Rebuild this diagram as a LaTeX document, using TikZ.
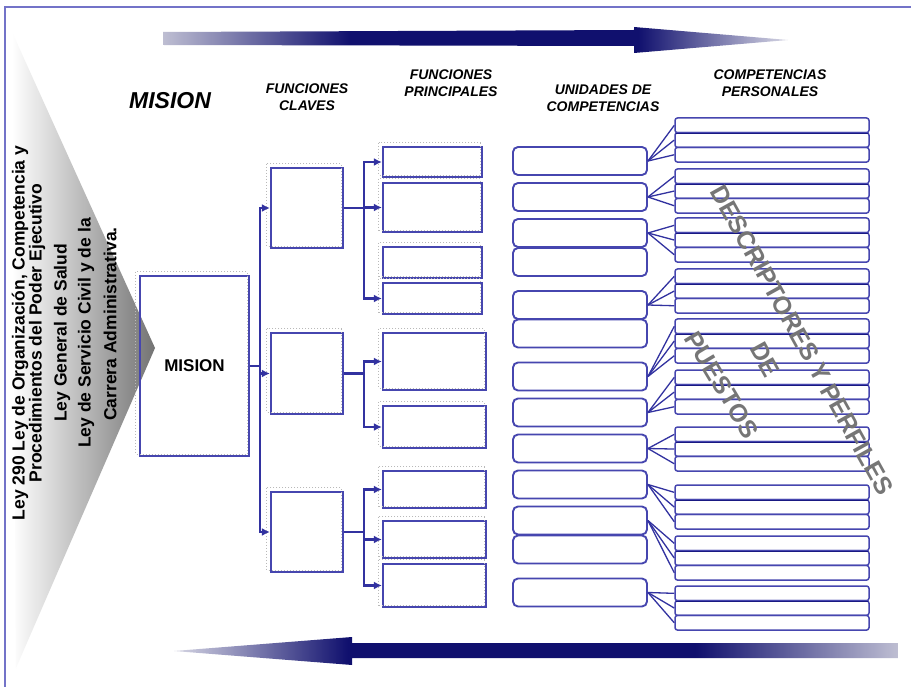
\documentclass[tikz,border=0pt]{standalone}
\usepackage{fontspec}
\setmainfont{Liberation Sans}
\usetikzlibrary{arrows.meta}
\definecolor{boxblue}{RGB}{70,70,175}
\definecolor{connblue}{RGB}{50,50,160}
\definecolor{darknavy}{RGB}{25,25,130}
\definecolor{framec}{RGB}{115,115,200}
\definecolor{arnavy}{RGB}{16,16,110}
\definecolor{arlight}{RGB}{190,190,210}
\definecolor{arlight2}{RGB}{215,215,228}
\definecolor{trigray}{RGB}{115,115,115}
\definecolor{diaggray}{RGB}{118,118,118}
\pgfdeclarehorizontalshading{toparrowshade}{100bp}{color(0bp)=(arlight); color(25bp)=(arlight); color(40bp)=(arnavy); color(63bp)=(arnavy); color(75bp)=(arlight2); color(100bp)=(arlight2)}
\pgfdeclarehorizontalshading{botarrowshade}{100bp}{color(0bp)=(arlight2); color(25bp)=(arlight2); color(37bp)=(arnavy); color(61bp)=(arnavy); color(75bp)=(arlight); color(100bp)=(arlight)}
\begin{document}
\begin{tikzpicture}[x=1pt,y=-1pt,
  bx/.style={draw=boxblue, line width=2.3pt, inner sep=0pt},
  ucbox/.style={draw=boxblue, line width=1.9pt, rounded corners=5pt, minimum width=134pt, minimum height=28pt, inner sep=0pt},
  cprow/.style={draw=boxblue, line width=1.5pt, rounded corners=2.5pt, minimum width=194pt, minimum height=14.7pt, inner sep=0pt},
  conn/.style={draw=connblue, line width=2.3pt, -{Latex[length=8pt,width=8pt]}},
  fan/.style={draw=connblue, line width=1.3pt},
  dshadow/.style={draw=gray!55, dotted, line width=1pt},
  hdr/.style={font=\bfseries\itshape\fontsize{14}{17}\selectfont, align=center, text=black, inner sep=0pt},
  law/.style={font=\bfseries\fontsize{17.5}{17.5}\selectfont, rotate=90, inner sep=0pt},
  diag/.style={font=\bfseries\fontsize{25}{25}\selectfont, text=diaggray, inner sep=0pt}
]
\useasboundingbox (0,0) rectangle (911,687);
\fill[white] (0,0) rectangle (911,687);

% frame
\draw[framec, line width=1.5pt] (5,690) -- (5,7) -- (915,7);

% left gradient triangle
\shade[left color=white, right color=trigray] (12,32) -- (155,348) -- (16,668) -- cycle;

% laws text
\node[law] (l1) at (20,333) {Ley 290 Ley de Organización, Competencia y};
\node[law] (l2) at (37,333) {Procedimientos del Poder Ejecutivo};
\node[law] (l3) at (62,333) {Ley General de Salud};
\node[law] (l4) at (86,333) {Ley de Servicio Civil y de la};
\node[law] (l5) at (110,324) {Carrera Administrativa.};

% top and bottom arrows
\shade[shading=toparrowshade] (163,32) -- (634,30) -- (634,27) -- (788,40) -- (634,53) -- (634,46) -- (163,45) -- cycle;
\shade[shading=botarrowshade] (174,651) -- (352,637) -- (352,643) -- (898,643) -- (898,658) -- (352,658) -- (352,665) -- cycle;

% headers
\node[font=\bfseries\itshape\fontsize{23}{23}\selectfont, inner sep=0pt] (hmis) at (170,101) {MISION};
\node[hdr] (hfc) at (307,97) {FUNCIONES\\CLAVES};
\node[hdr] (hfp) at (451,83) {FUNCIONES\\PRINCIPALES};
\node[hdr] (huc) at (603,98) {UNIDADES DE\\COMPETENCIAS};
\node[hdr] (hcp) at (770,83) {COMPETENCIAS\\PERSONALES};

% mission box
\node[bx, minimum width=109pt, minimum height=180pt, font=\bfseries\fontsize{17}{17}\selectfont] (mis) at (194.5,366) {MISION};

% funciones claves
\node[bx, minimum width=72pt, minimum height=80pt] (fc1) at (307,208) {};
\node[bx, minimum width=72pt, minimum height=81pt] (fc2) at (307,373.5) {};
\node[bx, minimum width=72pt, minimum height=80pt] (fc3) at (307,532) {};

% funciones principales
\node[bx, minimum width=99pt, minimum height=30pt] (fp1) at (432.5,162) {};
\node[bx, minimum width=99pt, minimum height=49pt] (fp2) at (432.5,207.5) {};
\node[bx, minimum width=99pt, minimum height=31pt] (fp3) at (432.5,262.5) {};
\node[bx, minimum width=99pt, minimum height=31pt] (fp4) at (432.5,298.5) {};
\node[bx, minimum width=103pt, minimum height=57pt] (fp5) at (434.5,361.5) {};
\node[bx, minimum width=103pt, minimum height=42pt] (fp6) at (434.5,427) {};
\node[bx, minimum width=103pt, minimum height=37pt] (fp7) at (434.5,489.5) {};
\node[bx, minimum width=103pt, minimum height=37pt] (fp8) at (434.5,539.5) {};
\node[bx, minimum width=103pt, minimum height=43pt] (fp9) at (434.5,585.5) {};

% dotted shadows
\foreach \n in {mis,fc1,fc2,fc3,fp1,fp2,fp3,fp4,fp5,fp6,fp7,fp8,fp9}
  \draw[dshadow] ([shift={(-3,-3)}]\n.north west) rectangle ([shift={(-3,-3)}]\n.south east);

% connectors
\foreach \f in {fc1,fc2,fc3}
  \draw[conn] (mis.east) -- ++(9.5,0) |- (\f.west);
\foreach \p in {fp1,fp2,fp4}
  \draw[conn] (fc1.east) -- ++(19.5,0) |- (\p.west);
\foreach \p in {fp5,fp6}
  \draw[conn] (fc2.east) -- ++(19.5,0) |- (\p.west);
\foreach \p in {fp7,fp8,fp9}
  \draw[conn] (fc3.east) -- ++(19.5,0) |- (\p.west);

% unidades de competencias
\foreach \i/\c in {1/161,2/197,3/233,4/262,5/305,6/333.5,7/376.5,8/412.5,9/448.5,10/484.5,11/520.5,12/549.5,13/592.5}
  \node[ucbox] (uc\i) at (580,\c) {};

% competencias personales
\foreach \g/\t in {1/118,2/169,3/218,4/269,5/319,6/370,7/427,8/485,9/536,10/586} {
  \node[cprow] (cp\g-a) at (772,\t+7.35) {};
  \node[cprow] (cp\g-b) at (772,\t+22.05) {};
  \node[cprow] (cp\g-c) at (772,\t+36.75) {};
  \draw[darknavy, line width=1.6pt] ([xshift=2pt]cp\g-a.south west) -- ([xshift=-2pt]cp\g-a.south east);
}

% fans
\foreach \u/\g in {1/1,2/2,3/3,5/4,7/5,8/6,9/7,10/8,11/9,13/10}
  \foreach \r in {a,b,c}
    \draw[fan] (uc\u.east) -- (cp\g-\r.west);

% diagonal text
\node[diag, rotate=-61] (d1) at (802,340) {DESCRIPTORES Y PERFILES};
\node[diag, rotate=-61] (d2) at (765,360) {DE};
\node[diag, rotate=-59] (d3) at (722,385) {PUESTOS};
\end{tikzpicture}
\end{document}
